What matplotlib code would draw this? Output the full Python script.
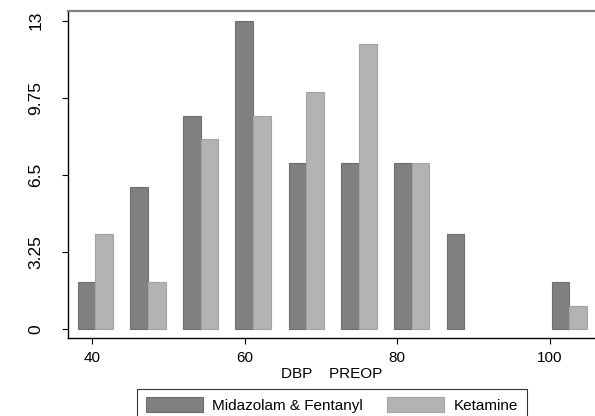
import matplotlib
matplotlib.use("Agg")
import matplotlib.pyplot as plt
import numpy as np

# DBP preop bins (x position where the two bars of a bin meet)
dbp_bins = [40.4, 47.3, 54.2, 61.1, 68.1, 75.0, 81.9, 88.8, 95.7, 102.6]
midazolam = [2, 6, 9, 13, 7, 7, 7, 4, 0, 2]
ketamine = [4, 2, 8, 9, 10, 12, 7, 0, 0, 1]
series_names = ["Midazolam & Fentanyl", "Ketamine"]
x_ticks = [40, 60, 80, 100]
y_ticks = [0, 3.25, 6.5, 9.75, 13]
y_ticklabels = ["0", "3.25", "6.5", "9.75", "13"]

DARK, DARK_EDGE = "#808080", "#6e6e6e"
LIGHT, LIGHT_EDGE = "#b3b3b3", "#a3a3a3"

plt.rcParams["font.family"] = ["Liberation Sans", "DejaVu Sans"]
plt.rcParams["font.size"] = 11

fig = plt.figure(figsize=(5.95, 4.16), dpi=100)
ax = fig.add_axes([68.3 / 595, 77.7 / 416, 1 - 68.3 / 595, (405 - 77.7) / 416])

x = np.array(dbp_bins)
w = 2.31
# no outline on empty bins
lw_m = [0.8 if v > 0 else 0 for v in midazolam]
lw_k = [0.8 if v > 0 else 0 for v in ketamine]
ax.bar(x - w / 2, midazolam, width=w, color=DARK, edgecolor=DARK_EDGE, linewidth=lw_m,
       label=series_names[0])
ax.bar(x + w / 2, ketamine, width=w, color=LIGHT, edgecolor=LIGHT_EDGE, linewidth=lw_k,
       label=series_names[1])

ax.set_xlim(36.85, 105.97)
ax.set_ylim(-0.38, 13.41)
ax.set_xticks(x_ticks)
ax.set_yticks(y_ticks)
ax.set_yticklabels(y_ticklabels, rotation=90, va="center")
ax.tick_params(axis="y", length=4, width=0.8, pad=14, labelsize=12.5)
ax.tick_params(axis="x", length=4.5, width=0.8, pad=5, labelsize=11)

for side in ("left", "bottom"):
    ax.spines[side].set_color("black")
    ax.spines[side].set_linewidth(1.0)
ax.spines["top"].set_color("#808080")
ax.spines["top"].set_linewidth(1.6)
ax.spines["right"].set_visible(False)

ax.set_xlabel("DBP    PREOP", fontsize=11, labelpad=1)

leg = fig.legend(loc="upper center", bbox_to_anchor=(332 / 595, 1 - 389 / 416),
                 ncol=2, frameon=True, fancybox=False, fontsize=11,
                 handlelength=3.73, handleheight=1.1, handletextpad=0.65,
                 columnspacing=1.57, borderpad=0.55, borderaxespad=0)
leg.get_frame().set_edgecolor("black")
leg.get_frame().set_linewidth(0.8)

fig.savefig("out.png", dpi=100)
